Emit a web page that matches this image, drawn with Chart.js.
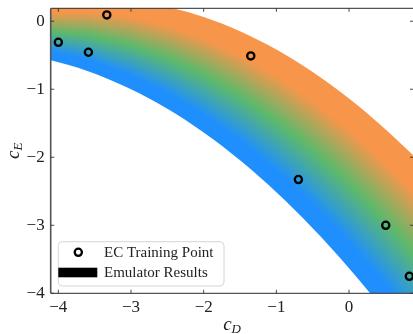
<!DOCTYPE html>
<html>
<head>
<meta charset="utf-8">
<script src="https://cdn.jsdelivr.net/npm/chart.js@4.4.1/dist/chart.umd.min.js"></script>
<style>
  html, body { margin: 0; padding: 0; overflow: hidden; background: #fff; width: 413px; height: 334px; }
  canvas { display: block; }
</style>
</head>
<body>
<canvas id="c" width="420" height="334" style="width:420px;height:334px"></canvas>
<script>
// ---------------- data ----------------
const ecX = [-4.0, -3.586, -3.333, -1.352, -0.697, 0.505, 0.83];
const ecY = [-0.31, -0.456, 0.093, -0.51, -2.328, -3.0, -3.75];

const bandX     = [-4.15, -3.6, -3.0, -2.5, -2.0, -1.5, -1.0, -0.5, 0.0, 0.5, 0.95];
const bandUpper = [0.27, 0.325, 0.30, 0.21, 0.063, -0.146, -0.415, -0.745, -1.136, -1.587, -2.04];
const bandLower = [-0.56, -0.731, -0.999, -1.288, -1.637, -2.045, -2.514, -3.042, -3.63, -4.278, -4.911];

const xTicks = [-4, -3, -2, -1, 0];
const xTickLabels = ['\u22124', '\u22123', '\u22122', '\u22121', '0'];
const yTicks = [-4, -3, -2, -1, 0];
const yTickLabels = ['\u22124', '\u22123', '\u22122', '\u22121', '0'];

const legendLabels = ['EC Training Point', 'Emulator Results'];

// ---------------- styling ----------------
const X_MIN = -4.105, X_MAX = 0.887, Y_MIN = -4, Y_MAX = 0.19;
const SERIF = "'Liberation Serif', 'Times New Roman', serif";
const C_ORANGE = '#f7964b', C_GREEN = '#5db96b', C_BLUE = '#1f8ffe';

let patCache = { key: null, pat: null };
function interpPix(pts, X) {
  let i = 1;
  while (i < pts.length - 1 && X > pts[i][0]) i++;
  const a = pts[i - 1], b = pts[i];
  return a[1] + (b[1] - a[1]) * (X - a[0]) / (b[0] - a[0]);
}
function bandPattern(chart) {
  const area = chart.chartArea;
  const xs = chart.scales.x, ys = chart.scales.y;
  if (!area || !xs || !ys) return C_GREEN;
  const key = [area.left, area.right, area.top, area.bottom].join(',');
  if (patCache.key === key) return patCache.pat;
  const off = document.createElement('canvas');
  off.width = chart.canvas.width; off.height = chart.canvas.height;
  const o = off.getContext('2d');
  const up = bandX.map((x, i) => [xs.getPixelForValue(x), ys.getPixelForValue(bandUpper[i])]);
  const lo = bandX.map((x, i) => [xs.getPixelForValue(x), ys.getPixelForValue(bandLower[i])]);
  for (let X = Math.floor(area.left) - 1; X < Math.ceil(area.right) + 1; X++) {
    const yu = interpPix(up, X + 0.5), yl = interpPix(lo, X + 0.5);
    const g = o.createLinearGradient(0, yu, 0, yl);
    g.addColorStop(0, C_ORANGE);
    g.addColorStop(0.18, C_ORANGE);
    g.addColorStop(0.5, C_GREEN);
    g.addColorStop(0.85, C_BLUE);
    g.addColorStop(1, C_BLUE);
    o.fillStyle = g;
    o.fillRect(X, 0, 1, off.height);
  }
  patCache = { key, pat: chart.ctx.createPattern(off, 'no-repeat') };
  return patCache.pat;
}

function zeroPad(s) { s.paddingLeft = 0; s.paddingRight = 0; s.paddingTop = 0; s.paddingBottom = 0; }

// frame, inward ticks, axis titles, legend
const decor = {
  id: 'decor',
  afterDraw(chart) {
    const { ctx, chartArea: a, scales } = chart;
    ctx.save();
    // spines
    ctx.strokeStyle = '#2a2a2a';
    ctx.lineWidth = 1;
    ctx.beginPath();
    ctx.moveTo(a.left, a.top); ctx.lineTo(a.right, a.top);
    ctx.moveTo(a.left, a.bottom); ctx.lineTo(a.right, a.bottom);
    ctx.moveTo(a.right, a.top); ctx.lineTo(a.right, a.bottom);
    ctx.stroke();
    ctx.strokeStyle = '#555';
    ctx.lineWidth = 1.6;
    ctx.beginPath();
    ctx.moveTo(a.left, a.top); ctx.lineTo(a.left, a.bottom);
    ctx.stroke();
    // inward ticks
    ctx.strokeStyle = '#333';
    ctx.lineWidth = 0.9;
    const TL = 3.5;
    ctx.beginPath();
    xTicks.forEach(v => {
      const px = scales.x.getPixelForValue(v);
      ctx.moveTo(px, a.bottom); ctx.lineTo(px, a.bottom - TL);
      ctx.moveTo(px, a.top); ctx.lineTo(px, a.top + TL);
    });
    yTicks.forEach(v => {
      const py = scales.y.getPixelForValue(v);
      ctx.moveTo(a.left, py); ctx.lineTo(a.left + TL, py);
      ctx.moveTo(a.right, py); ctx.lineTo(a.right - TL, py);
    });
    ctx.stroke();

    // axis titles c_D and c_E
    ctx.fillStyle = '#222';
    ctx.textBaseline = 'alphabetic';
    ctx.textAlign = 'left';
    const big = 'italic 19px ' + SERIF, small = 'italic 13px ' + SERIF;
    function subLabel(main, sub) {
      ctx.font = big; const w1 = ctx.measureText(main).width;
      ctx.font = small; const w2 = ctx.measureText(sub).width;
      return { w1, w2, w: w1 + w2 };
    }
    const cx = (a.left + a.right) / 2;
    let m = subLabel('c', 'D');
    let x0 = cx - m.w / 2;
    ctx.font = big; ctx.fillText('c', x0, 329.5);
    ctx.font = small; ctx.fillText('D', x0 + m.w1, 333);
    const cy = (a.top + a.bottom) / 2;
    m = subLabel('c', 'E');
    ctx.save();
    ctx.translate(18.5, cy + m.w / 2);
    ctx.rotate(-Math.PI / 2);
    ctx.font = big; ctx.fillText('c', 0, 0);
    ctx.font = small; ctx.fillText('E', m.w1, 3.5);
    ctx.restore();

    // legend
    const bx = 58.3, by = 241.7, bw = 165.7, bh = 44.3, r = 4;
    ctx.beginPath();
    ctx.moveTo(bx + r, by);
    ctx.arcTo(bx + bw, by, bx + bw, by + bh, r);
    ctx.arcTo(bx + bw, by + bh, bx, by + bh, r);
    ctx.arcTo(bx, by + bh, bx, by, r);
    ctx.arcTo(bx, by, bx + bw, by, r);
    ctx.closePath();
    ctx.fillStyle = 'rgba(255,255,255,0.85)';
    ctx.fill();
    ctx.strokeStyle = '#d6d6d6';
    ctx.lineWidth = 1;
    ctx.stroke();
    // marker
    ctx.beginPath();
    ctx.arc(78.3, 252.3, 3.6, 0, Math.PI * 2);
    ctx.strokeStyle = '#000';
    ctx.lineWidth = 2.3;
    ctx.stroke();
    // swatch
    ctx.fillStyle = '#000';
    ctx.fillRect(58.3, 267.7, 39, 9.6);
    // text
    ctx.fillStyle = '#222';
    ctx.font = '15px ' + SERIF;
    ctx.fillText(legendLabels[0], 104, 256.7);
    ctx.fillText(legendLabels[1], 104, 277);
    ctx.restore();
  }
};

const ctx = document.getElementById('c').getContext('2d');
new Chart(ctx, {
  type: 'line',
  data: {
    datasets: [
      {
        label: 'EC Training Point',
        type: 'scatter',
        data: ecX.map((x, i) => ({ x, y: ecY[i] })),
        pointStyle: 'circle',
        pointRadius: 3.6,
        pointBorderWidth: 2.3,
        pointBorderColor: '#000',
        pointBackgroundColor: 'rgba(0,0,0,0)',
        showLine: false,
        order: 0,
        clip: false
      },
      {
        label: 'lower',
        data: bandX.map((x, i) => ({ x, y: bandLower[i] })),
        borderWidth: 0,
        borderColor: 'rgba(0,0,0,0)',
        pointRadius: 0,
        fill: false,
        cubicInterpolationMode: 'monotone',
        order: 2
      },
      {
        label: 'Emulator Results',
        data: bandX.map((x, i) => ({ x, y: bandUpper[i] })),
        borderWidth: 0,
        borderColor: 'rgba(0,0,0,0)',
        pointRadius: 0,
        fill: { target: 1 },
        backgroundColor: (c) => bandPattern(c.chart),
        cubicInterpolationMode: 'monotone',
        order: 1
      }
    ]
  },
  options: {
    responsive: false,
    animation: false,
    devicePixelRatio: 1,
    events: [],
    layout: { padding: { left: 0, top: 8.3, right: 6.5, bottom: 0 } },
    plugins: { legend: { display: false }, tooltip: { enabled: false } },
    scales: {
      x: {
        type: 'linear',
        min: X_MIN, max: X_MAX,
        afterBuildTicks: (s) => { s.ticks = xTicks.map(v => ({ value: v })); },
        afterFit: (s) => { s.height = 334 - 293.3; zeroPad(s); },
        grid: { display: false, drawTicks: false },
        border: { display: false },
        ticks: {
          padding: 4,
          color: '#222',
          font: { family: SERIF, size: 17 },
          callback: (v) => { const i = xTicks.indexOf(v); return i >= 0 ? xTickLabels[i] : ''; },
          maxRotation: 0, autoSkip: false
        }
      },
      y: {
        type: 'linear',
        min: Y_MIN, max: Y_MAX,
        afterBuildTicks: (s) => { s.ticks = yTicks.map(v => ({ value: v })); },
        afterFit: (s) => { s.width = 50.7; zeroPad(s); },
        grid: { display: false, drawTicks: false },
        border: { display: false },
        ticks: {
          padding: 6,
          color: '#222',
          font: { family: SERIF, size: 17 },
          callback: (v) => { const i = yTicks.indexOf(v); return i >= 0 ? yTickLabels[i] : ''; },
          autoSkip: false
        }
      }
    }
  },
  plugins: [decor]
});
</script>
</body>
</html>
